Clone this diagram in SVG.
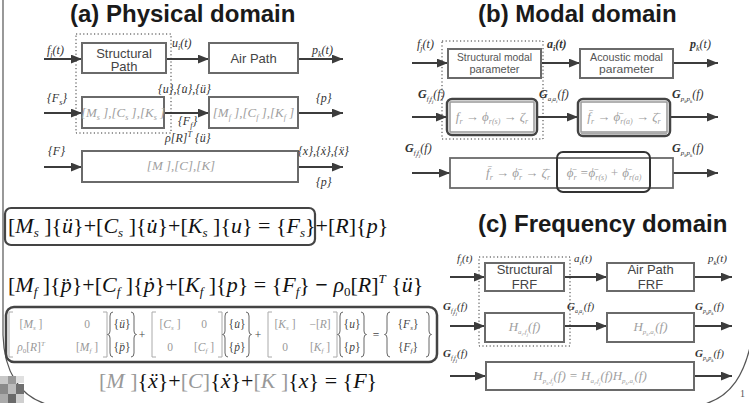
<svg xmlns="http://www.w3.org/2000/svg" width="749" height="403" viewBox="0 0 749 403">
<defs>
<marker id="ah" viewBox="0 0 10 8" refX="10" refY="4" markerWidth="11" markerHeight="9" markerUnits="userSpaceOnUse" orient="auto"><path d="M0,0 L10,4 L0,8 z" fill="#3c3c3c"/></marker>
</defs>
<style>
.t{font-family:"Liberation Sans",Arial,sans-serif;font-weight:bold;font-size:24px;fill:#1a1a1a}
.box{fill:#fff;stroke:#6a6a6a;stroke-width:2}
.lb{font-family:"Liberation Serif","Times New Roman",serif;font-style:italic;font-size:12px;fill:#333}
.lc{font-family:"Liberation Serif","Times New Roman",serif;font-style:italic;font-size:11px;fill:#333}
.G{font-weight:bold}
.bt{font-family:"Liberation Sans",Arial,sans-serif;font-size:13px;fill:#444;text-anchor:middle}
.bs{font-family:"Liberation Sans",Arial,sans-serif;font-size:11px;fill:#555;text-anchor:middle}
.m{font-family:"Liberation Serif","Times New Roman",serif;font-style:italic;font-size:13px;fill:#a0a0a0;text-anchor:middle}
.ar{stroke:#3c3c3c;stroke-width:2;fill:none;marker-end:url(#ah)}
.dot{fill:none;stroke:#333;stroke-width:1;stroke-dasharray:1.2 2.4}
.eq{font-family:"Liberation Serif","Times New Roman",serif;font-size:22px;fill:#111}
.i{font-style:italic}
.mx{font-family:"Liberation Serif","Times New Roman",serif;font-size:11.5px;fill:#999;text-anchor:middle}
.vx{fill:#444}
.br{fill:none;stroke:#aaa;stroke-width:1}
.bc{fill:none;stroke:#666;stroke-width:1}
.frame{fill:none;stroke:#555;stroke-width:1.2}
</style>

<!-- slide frame -->
<g id="frame">
<path class="frame" d="M3,0 V335 C4,372 20,396 46,404"/>
<path class="frame" d="M752,338 C745,375 731,396 705,404"/>
<text x="740" y="397" font-family="Liberation Serif,serif" font-size="10" fill="#555">1</text>
<rect x="0" y="376" width="8" height="8" fill="#c8c8c8"/>
<rect x="8" y="376" width="8" height="8" fill="#9a9a9a"/>
<rect x="16" y="376" width="8" height="7" fill="#e0e0e0"/>
<rect x="0" y="384" width="8" height="10" fill="#8a8a8a"/>
<rect x="8" y="384" width="8" height="10" fill="#bcbcbc"/>
<rect x="16" y="384" width="8" height="10" fill="#707070"/>
<rect x="0" y="394" width="8" height="9" fill="#aaaaaa"/>
<rect x="8" y="394" width="8" height="9" fill="#6a6a6a"/>
<rect x="16" y="394" width="8" height="9" fill="#cfcfcf"/>
</g>

<!-- titles -->
<text class="t" x="70" y="22">(a) Physical domain</text>
<text class="t" x="478" y="22">(b) Modal domain</text>
<text class="t" x="478" y="232">(c) Frequency domain</text>

<!-- connectors -->
<g id="connectors">
<line class="ar" x1="44" y1="59" x2="82" y2="59"/>
<line class="ar" x1="166" y1="59" x2="209" y2="59"/>
<line class="ar" x1="298" y1="59" x2="343" y2="59"/>
<line class="ar" x1="44" y1="113" x2="82" y2="113"/>
<line class="ar" x1="164" y1="113" x2="209" y2="113"/>
<line class="ar" x1="298" y1="113" x2="343" y2="113"/>
<line class="ar" x1="44" y1="167" x2="82" y2="167"/>
<line class="ar" x1="298" y1="167" x2="343" y2="167"/>

<line class="ar" x1="412" y1="63" x2="448" y2="63"/>
<line class="ar" x1="541" y1="63" x2="580" y2="63"/>
<line class="ar" x1="673" y1="63" x2="718" y2="63"/>
<line class="ar" x1="412" y1="117" x2="447" y2="117"/>
<line class="ar" x1="537" y1="117" x2="578" y2="117"/>
<line class="ar" x1="670" y1="117" x2="718" y2="117"/>
<line class="ar" x1="412" y1="173" x2="450" y2="173"/>
<line class="ar" x1="673" y1="173" x2="718" y2="173"/>

<line class="ar" x1="450" y1="277" x2="485" y2="277"/>
<line class="ar" x1="564" y1="277" x2="607" y2="277"/>
<line class="ar" x1="694" y1="277" x2="732" y2="277"/>
<line class="ar" x1="450" y1="326" x2="485" y2="326"/>
<line class="ar" x1="564" y1="326" x2="607" y2="326"/>
<line class="ar" x1="694" y1="326" x2="732" y2="326"/>
<line class="ar" x1="450" y1="376" x2="486" y2="376"/>
<line class="ar" x1="694" y1="376" x2="732" y2="376"/>
</g>

<!-- (a) physical domain -->
<g id="a-structural-path">
<rect class="box" x="82" y="43" width="84" height="30"/>
<text class="bt" x="124" y="57.5" font-size="12.5">Structural</text>
<text class="bt" x="124" y="71" font-size="12.5">Path</text>
</g>
<g id="a-air-path">
<rect class="box" x="209" y="43" width="89" height="30"/>
<text class="bt" x="253.5" y="63">Air Path</text>
</g>
<g id="a-ms">
<rect class="box" x="82" y="97" width="82" height="31"/>
<text class="m" x="123" y="117">[M<tspan font-size="8" dy="3">s</tspan><tspan dy="-3"> ],[C</tspan><tspan font-size="8" dy="3">s</tspan><tspan dy="-3"> ],[K</tspan><tspan font-size="8" dy="3">s</tspan><tspan dy="-3"> ]</tspan></text>
</g>
<g id="a-mf">
<rect class="box" x="209" y="97" width="89" height="31"/>
<text class="m" x="253.5" y="117">[M<tspan font-size="8" dy="3">f</tspan><tspan dy="-3"> ],[C</tspan><tspan font-size="8" dy="3">f</tspan><tspan dy="-3"> ],[K</tspan><tspan font-size="8" dy="3">f</tspan><tspan dy="-3"> ]</tspan></text>
</g>
<g id="a-m">
<rect class="box" x="82" y="151" width="216" height="31"/>
<text class="m" x="181" y="170">[M ],[C],[K]</text>
</g>
<rect class="dot" x="76" y="34" width="95" height="99"/>
<g id="a-labels">
<text class="lb" x="47" y="54">f<tspan font-size="8" dy="3">j</tspan><tspan dy="-3">(t)</tspan></text>
<text class="lb" x="172" y="47">u<tspan font-size="8" dy="3">i</tspan><tspan dy="-3">(t)</tspan></text>
<text class="lb" x="312" y="54">p<tspan font-size="8" dy="3">k</tspan><tspan dy="-3">(t)</tspan></text>
<text class="lb" x="47" y="102">{F<tspan font-size="8" dy="3">s</tspan><tspan dy="-3">}</tspan></text>
<text class="lb" x="158" y="93">{u},{u̇},{ü}</text>
<text class="lb" x="316" y="102">{p}</text>
<text class="lb" x="178" y="125">{F<tspan font-size="8" dy="3">f</tspan><tspan dy="-3">}</tspan></text>
<text class="lb" x="165" y="142">ρ[R]<tspan font-size="8" dy="-5">T</tspan><tspan dy="5"> {ü}</tspan></text>
<text class="lb" x="48" y="155">{F}</text>
<text class="lb" x="298" y="155">{x},{ẋ},{ẍ}</text>
<text class="lb" x="316" y="186">{p}</text>
</g>

<!-- (b) modal domain -->
<g id="b-structural-modal">
<rect class="box" x="448" y="49" width="93" height="29"/>
<text class="bs" x="494.5" y="60.5" textLength="75" lengthAdjust="spacingAndGlyphs">Structural modal</text>
<text class="bs" x="494.5" y="73" textLength="50" lengthAdjust="spacingAndGlyphs">parameter</text>
</g>
<g id="b-acoustic-modal">
<rect class="box" x="580" y="49" width="93" height="29"/>
<text class="bs" x="626.5" y="60.5" textLength="73" lengthAdjust="spacingAndGlyphs" fill="#888">Acoustic modal</text>
<text class="bs" x="626.5" y="73" textLength="55" lengthAdjust="spacingAndGlyphs" fill="#888">parameter</text>
</g>
<g id="b-structural-params">
<rect x="447" y="99" width="90" height="36" rx="5" fill="#fff" stroke="#444" stroke-width="2.5"/>
<rect x="450" y="102" width="84" height="30" fill="none" stroke="#999" stroke-width="1.5"/>
<text class="m" x="492" y="121" font-size="12">f<tspan font-size="8" dy="3">r</tspan><tspan dy="-3"> → ϕ</tspan><tspan font-size="8" dy="3">r(s)</tspan><tspan dy="-3"> → ζ</tspan><tspan font-size="8" dy="3">r</tspan></text>
</g>
<g id="b-acoustic-params">
<rect x="578" y="99" width="92" height="37" rx="5" fill="#fff" stroke="#444" stroke-width="2.5"/>
<rect x="581" y="102" width="86" height="30" fill="none" stroke="#999" stroke-width="1.5"/>
<line x1="581" y1="133.5" x2="667" y2="133.5" stroke="#aaa" stroke-width="2"/>
<text class="m" x="624" y="121" font-size="12">f̄<tspan font-size="8" dy="3">r</tspan><tspan dy="-3"> → ϕ̄</tspan><tspan font-size="8" dy="3">r(a)</tspan><tspan dy="-3"> → ζ̄</tspan><tspan font-size="8" dy="3">r</tspan></text>
</g>
<g id="b-coupled">
<rect x="450" y="158" width="223" height="30" fill="#fff" stroke="#6a6a6a" stroke-width="1.8"/>
<rect x="557" y="152" width="93" height="40" rx="6" fill="none" stroke="#333" stroke-width="2"/>
<text class="m" x="518" y="177" font-size="12">f̄<tspan font-size="8" dy="3">r</tspan><tspan dy="-3"> → ϕ̄</tspan><tspan font-size="8" dy="3">r</tspan><tspan dy="-3"> → ζ̄</tspan><tspan font-size="8" dy="3">r</tspan></text>
<text class="m" x="604" y="177" font-size="12">ϕ̄<tspan font-size="8" dy="3">r</tspan><tspan dy="-3"> =ϕ̄</tspan><tspan font-size="8" dy="3">r(s)</tspan><tspan dy="-3"> + ϕ̄</tspan><tspan font-size="8" dy="3">r(a)</tspan></text>
</g>
<rect class="dot" x="442" y="41" width="101" height="98"/>
<g id="b-labels">
<text class="lb" x="417" y="48">f<tspan font-size="8" dy="3">j</tspan><tspan dy="-3">(t)</tspan></text>
<text class="lb G" x="547" y="48">a<tspan font-size="8" dy="3">i</tspan><tspan dy="-3">(t)</tspan></text>
<text class="lb" x="690" y="48"><tspan class="G">p</tspan><tspan font-size="8" dy="3">k</tspan><tspan dy="-3">(t)</tspan></text>
<text class="lb" x="418" y="98"><tspan class="G">G</tspan><tspan font-size="7" dy="3">f</tspan><tspan font-size="5" dy="1.5">j</tspan><tspan font-size="7" dy="-1.5">f</tspan><tspan font-size="5" dy="1.5">j</tspan><tspan dy="-4.5">(f)</tspan></text>
<text class="lb" x="539" y="98"><tspan class="G">G</tspan><tspan font-size="7" dy="3">a</tspan><tspan font-size="5" dy="1.5">i</tspan><tspan font-size="7" dy="-1.5">a</tspan><tspan font-size="5" dy="1.5">i</tspan><tspan dy="-4.5">(f)</tspan></text>
<text class="lb" x="672" y="98"><tspan class="G">G</tspan><tspan font-size="7" dy="3">p</tspan><tspan font-size="5" dy="1.5">k</tspan><tspan font-size="7" dy="-1.5">p</tspan><tspan font-size="5" dy="1.5">k</tspan><tspan dy="-4.5">(f)</tspan></text>
<text class="lb" x="405" y="152"><tspan class="G">G</tspan><tspan font-size="7" dy="3">f</tspan><tspan font-size="5" dy="1.5">j</tspan><tspan font-size="7" dy="-1.5">f</tspan><tspan font-size="5" dy="1.5">j</tspan><tspan dy="-4.5">(f)</tspan></text>
<text class="lb" x="672" y="152"><tspan class="G">G</tspan><tspan font-size="7" dy="3">p</tspan><tspan font-size="5" dy="1.5">k</tspan><tspan font-size="7" dy="-1.5">p</tspan><tspan font-size="5" dy="1.5">k</tspan><tspan dy="-4.5">(f)</tspan></text>
</g>

<!-- (c) frequency domain -->
<g id="c-structural-frf">
<rect class="box" x="485" y="263" width="79" height="28"/>
<text class="bt" x="524.5" y="274">Structural</text>
<text class="bt" x="524.5" y="289">FRF</text>
</g>
<g id="c-airpath-frf">
<rect class="box" x="607" y="263" width="87" height="28"/>
<text class="bt" x="650.5" y="274">Air Path</text>
<text class="bt" x="650.5" y="289">FRF</text>
</g>
<g id="c-h-af">
<rect class="box" x="485" y="313" width="79" height="29"/>
<text class="m" x="524.5" y="331" font-size="12">H<tspan font-size="7" dy="3">a</tspan><tspan font-size="5" dy="1.5">i</tspan><tspan font-size="7" dy="-1.5">,f</tspan><tspan font-size="5" dy="1.5">j</tspan><tspan dy="-4.5">(f)</tspan></text>
</g>
<g id="c-h-pa">
<rect class="box" x="607" y="313" width="87" height="29"/>
<text class="m" x="650.5" y="331" font-size="12">H<tspan font-size="7" dy="3">p</tspan><tspan font-size="5" dy="1.5">k</tspan><tspan font-size="7" dy="-1.5">,a</tspan><tspan font-size="5" dy="1.5">i</tspan><tspan dy="-4.5">(f)</tspan></text>
</g>
<g id="c-h-pf">
<rect class="box" x="486" y="362" width="208" height="28"/>
<text class="m" x="590" y="380" font-size="12">H<tspan font-size="7" dy="3">p</tspan><tspan font-size="5" dy="1.5">k</tspan><tspan font-size="7" dy="-1.5">,f</tspan><tspan font-size="5" dy="1.5">j</tspan><tspan dy="-4.5">(f) = H</tspan><tspan font-size="7" dy="3">a</tspan><tspan font-size="5" dy="1.5">i</tspan><tspan font-size="7" dy="-1.5">,f</tspan><tspan font-size="5" dy="1.5">j</tspan><tspan dy="-4.5">(f)H</tspan><tspan font-size="7" dy="3">p</tspan><tspan font-size="5" dy="1.5">k</tspan><tspan font-size="7" dy="-1.5">,a</tspan><tspan font-size="5" dy="1.5">i</tspan><tspan dy="-4.5">(f)</tspan></text>
</g>
<rect class="dot" x="479" y="257" width="91" height="89"/>
<g id="c-labels">
<text class="lc" x="457" y="262">f<tspan font-size="7" dy="3">j</tspan><tspan dy="-3">(t)</tspan></text>
<text class="lc" x="574" y="262">a<tspan font-size="7" dy="3">i</tspan><tspan dy="-3">(t)</tspan></text>
<text class="lc" x="708" y="262">p<tspan font-size="7" dy="3">k</tspan><tspan dy="-3">(t)</tspan></text>
<text class="lc" x="443" y="310"><tspan class="G">G</tspan><tspan font-size="6" dy="3">f</tspan><tspan font-size="5" dy="1.5">j</tspan><tspan font-size="6" dy="-1.5">f</tspan><tspan font-size="5" dy="1.5">j</tspan><tspan dy="-4.5">(f)</tspan></text>
<text class="lc" x="567" y="310"><tspan class="G">G</tspan><tspan font-size="6" dy="3">a</tspan><tspan font-size="5" dy="1.5">i</tspan><tspan font-size="6" dy="-1.5">a</tspan><tspan font-size="5" dy="1.5">i</tspan><tspan dy="-4.5">(f)</tspan></text>
<text class="lc" x="695" y="310"><tspan class="G">G</tspan><tspan font-size="6" dy="3">p</tspan><tspan font-size="5" dy="1.5">k</tspan><tspan font-size="6" dy="-1.5">p</tspan><tspan font-size="5" dy="1.5">k</tspan><tspan dy="-4.5">(f)</tspan></text>
<text class="lc" x="443" y="357"><tspan class="G">G</tspan><tspan font-size="6" dy="3">f</tspan><tspan font-size="5" dy="1.5">j</tspan><tspan font-size="6" dy="-1.5">f</tspan><tspan font-size="5" dy="1.5">j</tspan><tspan dy="-4.5">(f)</tspan></text>
<text class="lc" x="695" y="357"><tspan class="G">G</tspan><tspan font-size="6" dy="3">p</tspan><tspan font-size="5" dy="1.5">k</tspan><tspan font-size="6" dy="-1.5">p</tspan><tspan font-size="5" dy="1.5">k</tspan><tspan dy="-4.5">(f)</tspan></text>
</g>

<!-- equations -->
<g id="eq-structure">
<rect x="5" y="208" width="310" height="37" rx="6" fill="none" stroke="#444" stroke-width="2.2"/>
<text class="eq" x="8" y="233">[<tspan class="i">M</tspan><tspan class="i" font-size="13" dy="4">s</tspan><tspan dy="-4"> ]{</tspan><tspan class="i">ü</tspan>}+[<tspan class="i">C</tspan><tspan class="i" font-size="13" dy="4">s</tspan><tspan dy="-4"> ]{</tspan><tspan class="i">u̇</tspan>}+[<tspan class="i">K</tspan><tspan class="i" font-size="13" dy="4">s</tspan><tspan dy="-4"> ]{</tspan><tspan class="i">u</tspan>} = {<tspan class="i">F</tspan><tspan class="i" font-size="13" dy="4">s</tspan><tspan dy="-4">}+[</tspan><tspan class="i">R</tspan>]{<tspan class="i">p</tspan>}</text>
</g>
<g id="eq-fluid">
<text class="eq" x="8" y="292">[<tspan class="i">M</tspan><tspan class="i" font-size="13" dy="4">f</tspan><tspan dy="-4"> ]{</tspan><tspan class="i">p̈</tspan>}+[<tspan class="i">C</tspan><tspan class="i" font-size="13" dy="4">f</tspan><tspan dy="-4"> ]{</tspan><tspan class="i">ṗ</tspan>}+[<tspan class="i">K</tspan><tspan class="i" font-size="13" dy="4">f</tspan><tspan dy="-4"> ]{</tspan><tspan class="i">p</tspan>} = {<tspan class="i">F</tspan><tspan class="i" font-size="13" dy="4">f</tspan><tspan dy="-4">} </tspan><tspan font-weight="bold">−</tspan> <tspan class="i">ρ</tspan><tspan font-size="13" dy="4">0</tspan><tspan dy="-4">[</tspan><tspan class="i">R</tspan>]<tspan class="i" font-size="13" dy="-9">T</tspan><tspan dy="9"> {</tspan><tspan class="i">ü</tspan>}</text>
</g>
<g id="eq-matrix">
<rect x="6" y="307" width="431" height="55" rx="8" fill="none" stroke="#444" stroke-width="2.5"/>
<path class="br" d="M13,312 H9 V357 H13 M103,312 H107 V357 H103"/>
<path class="br" d="M156,312 H152 V357 H156 M218,312 H222 V357 H218"/>
<path class="br" d="M272,312 H268 V357 H272 M333,312 H337 V357 H333"/>
<path class="bc" d="M113,312 Q110,312 110,316 V331 Q110,334.5 107.5,334.5 Q110,334.5 110,338 V353 Q110,357 113,357 M131,312 Q134,312 134,316 V331 Q134,334.5 136.5,334.5 Q134,334.5 134,338 V353 Q134,357 131,357"/>
<path class="bc" d="M228,312 Q225,312 225,316 V331 Q225,334.5 222.5,334.5 Q225,334.5 225,338 V353 Q225,357 228,357 M246,312 Q249,312 249,316 V331 Q249,334.5 251.5,334.5 Q249,334.5 249,338 V353 Q249,357 246,357"/>
<path class="bc" d="M343,312 Q340,312 340,316 V331 Q340,334.5 337.5,334.5 Q340,334.5 340,338 V353 Q340,357 343,357 M361,312 Q364,312 364,316 V331 Q364,334.5 366.5,334.5 Q364,334.5 364,338 V353 Q364,357 361,357"/>
<path class="bc" d="M390,312 Q387,312 387,316 V331 Q387,334.5 384.5,334.5 Q387,334.5 387,338 V353 Q387,357 390,357 M426,312 Q429,312 429,316 V331 Q429,334.5 431.5,334.5 Q429,334.5 429,338 V353 Q429,357 426,357"/>
<text class="mx" x="31" y="328">[<tspan class="i">M</tspan><tspan class="i" font-size="7" dy="2">s</tspan><tspan dy="-2"> ]</tspan></text>
<text class="mx" x="87" y="328">0</text>
<text class="mx" x="31" y="351"><tspan class="i">ρ</tspan><tspan font-size="7" dy="2">0</tspan><tspan dy="-2">[</tspan><tspan class="i">R</tspan>]<tspan class="i" font-size="7" dy="-5">T</tspan></text>
<text class="mx" x="87" y="351">[<tspan class="i">M</tspan><tspan class="i" font-size="7" dy="2">f</tspan><tspan dy="-2"> ]</tspan></text>
<text class="mx vx" x="122" y="328">{<tspan class="i">ü</tspan>}</text>
<text class="mx vx" x="122" y="351">{<tspan class="i">p̈</tspan>}</text>
<text class="mx" x="170" y="328">[<tspan class="i">C</tspan><tspan class="i" font-size="7" dy="2">s</tspan><tspan dy="-2"> ]</tspan></text>
<text class="mx" x="204" y="328">0</text>
<text class="mx" x="170" y="351">0</text>
<text class="mx" x="204" y="351">[<tspan class="i">C</tspan><tspan class="i" font-size="7" dy="2">f</tspan><tspan dy="-2"> ]</tspan></text>
<text class="mx vx" x="237" y="328">{<tspan class="i">u̇</tspan>}</text>
<text class="mx vx" x="237" y="351">{<tspan class="i">ṗ</tspan>}</text>
<text class="mx" x="285" y="328">[<tspan class="i">K</tspan><tspan class="i" font-size="7" dy="2">s</tspan><tspan dy="-2"> ]</tspan></text>
<text class="mx" x="320" y="328">−[<tspan class="i">R</tspan>]</text>
<text class="mx" x="285" y="351">0</text>
<text class="mx" x="320" y="351">[<tspan class="i">K</tspan><tspan class="i" font-size="7" dy="2">f</tspan><tspan dy="-2"> ]</tspan></text>
<text class="mx vx" x="352" y="328">{<tspan class="i">u</tspan>}</text>
<text class="mx vx" x="352" y="351">{<tspan class="i">p</tspan>}</text>
<text class="mx vx" x="408" y="328">{<tspan class="i">F</tspan><tspan class="i" font-size="7" dy="2">s</tspan><tspan dy="-2">}</tspan></text>
<text class="mx vx" x="408" y="351">{<tspan class="i">F</tspan><tspan class="i" font-size="7" dy="2">f</tspan><tspan dy="-2">}</tspan></text>
<text class="mx vx" x="142" y="339" font-size="13">+</text>
<text class="mx vx" x="258" y="339" font-size="13">+</text>
<text class="mx vx" x="376" y="339" font-size="13">=</text>
</g>
<g id="eq-global">
<text class="eq" x="99" y="388" font-size="23"><tspan fill="#999">[<tspan class="i">M</tspan> ]</tspan>{<tspan class="i">ẍ</tspan>}+<tspan fill="#999">[<tspan class="i">C</tspan>]</tspan>{<tspan class="i">ẋ</tspan>}+<tspan fill="#999">[<tspan class="i">K</tspan> ]</tspan>{<tspan class="i">x</tspan>} = {<tspan class="i">F</tspan>}</text>
</g>
</svg>
